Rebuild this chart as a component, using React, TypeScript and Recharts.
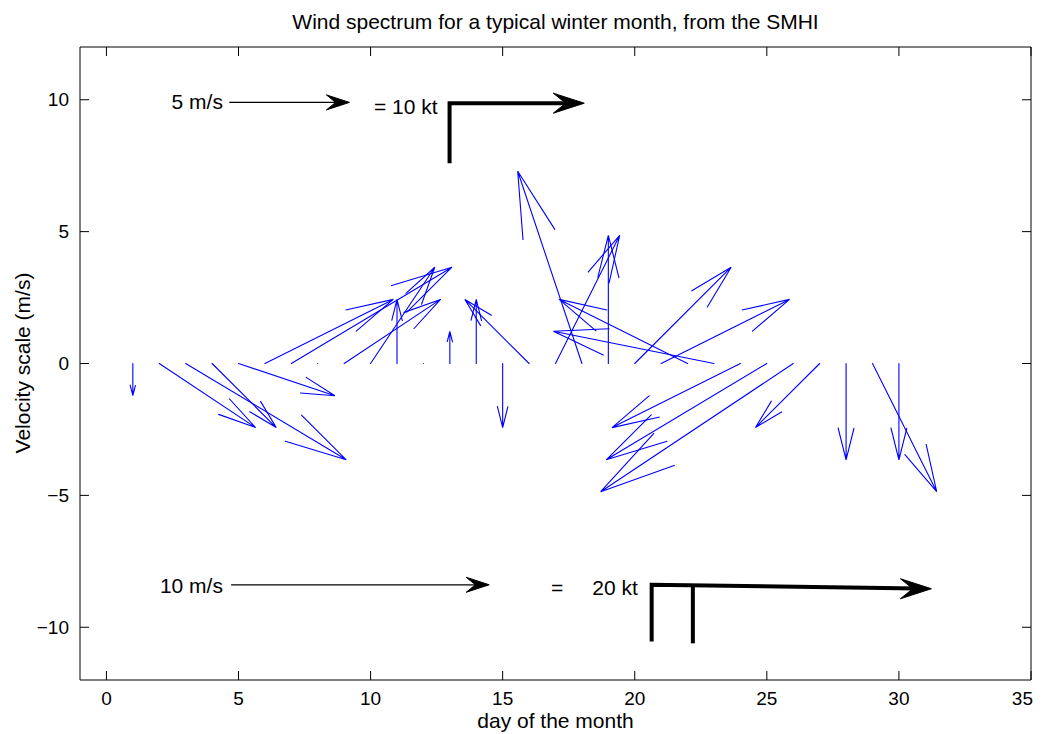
import React from 'react'
import { ScatterChart, Scatter, XAxis, YAxis } from 'recharts'

// one arrow per day, drawn from (day, 0). u/v (already in m/s-scale units)
const days = [1, 2, 3, 4, 5, 6, 7, 8, 9, 10, 11, 12, 13, 14, 15, 16, 17, 18, 19, 20, 21, 22, 23, 24, 25, 26, 27, 28, 29, 30]
const uWind = [0, 3.65, 6.08, 2.43, 3.65, 4.86, 6.08, 0, 3.65, 2.43, 0, 0, 0, 0, 0, -2.43, 2.43, -2.43, 0, 3.65, 4.86, -4.86, -6.08, -4.86, -6.08, -7.29, -2.43, 0, 2.43, 0]
const vWind = [-1.22, -2.43, -3.65, -2.43, -1.22, 2.43, 3.65, 0, 2.43, 3.65, 2.43, 0, 1.22, 2.43, -2.43, 2.43, 4.86, 7.29, 4.86, 3.65, 2.43, 2.43, 1.22, -2.43, -3.65, -4.86, -2.43, -3.65, -4.86, -3.65]

const xTicks = [0, 5, 10, 15, 20, 25, 30, 35]
const yTicks = [-10, -5, 0, 5, 10]

// scale key annotations (data coords)
const keyTexts = [
  { x: 4.41, y: 9.92, label: '5 m/s', anchor: 'end' },
  { x: 10.13, y: 9.76, label: '= 10 kt', anchor: 'start' },
  { x: 4.41, y: -8.42, label: '10 m/s', anchor: 'end' },
  { x: 17.06, y: -8.5, label: '=', anchor: 'middle' },
  { x: 18.39, y: -8.5, label: '20 kt', anchor: 'start' },
]
const thinShafts = [
  [{ x: 4.65, y: 9.9 }, { x: 8.9, y: 9.9 }],
  [{ x: 4.72, y: -8.39 }, { x: 14.2, y: -8.39 }],
]
const thinTips = [{ x: 9.2, y: 9.9 }, { x: 14.49, y: -8.39 }]
const barbLines = [
  [{ x: 12.99, y: 7.59 }, { x: 12.99, y: 9.87 }, { x: 17.6, y: 9.87 }],
  [{ x: 20.64, y: -10.54 }, { x: 20.64, y: -8.39 }, { x: 30.7, y: -8.53 }],
  [{ x: 22.2, y: -10.61 }, { x: 22.2, y: -8.43 }],
]
const barbTips = [{ x: 18.09, y: 9.87 }, { x: 31.23, y: -8.54 }]

const FONT = '"Liberation Sans", Arial, Helvetica, sans-serif'
const BLUE = '#0000ff'
const TICK_LEN = 9

// matlab quiver head: alpha = head length, beta = head width
const ALPHA = 0.33
const BETA = 0.25

function quiverPoints(x: number, u: number, v: number) {
  const tx = x + u
  const ty = v
  return [
    { x, y: 0 },
    { x: tx, y: ty },
    { x: tx - ALPHA * (u + BETA * v), y: ty - ALPHA * (v - BETA * u) },
    { x: tx, y: ty },
    { x: tx - ALPHA * (u - BETA * v), y: ty - ALPHA * (v + BETA * u) },
  ]
}

const Empty = () => <g />

const headShape = (len: number, half: number) => (p: any) => {
  const { cx, cy } = p
  const d = `M${cx},${cy} L${cx - len},${cy - half} L${cx - len * 0.6},${cy} L${cx - len},${cy + half} Z`
  return <path d={d} fill="#000" stroke="#000" strokeWidth={1} strokeLinejoin="miter" />
}

const TextShape = (p: any) => (
  <text x={p.cx} y={p.cy} textAnchor={p.payload.anchor} dominantBaseline="central" fontSize={21} fontFamily={FONT} fill="#000">
    {p.payload.label}
  </text>
)

const fmt = (v: number) => (v < 0 ? `\u2212${-v}` : `${v}`)

function BottomTick({ x, y, payload }: any) {
  // last label is kept inside the frame, as in the original
  const last = payload.value === xTicks[xTicks.length - 1]
  return (
    <g>
      <line x1={x} x2={x} y1={y} y2={y - TICK_LEN} stroke="#000" />
      <text x={last ? x + 2 : x} y={y + 18} textAnchor={last ? 'end' : 'middle'} dominantBaseline="central" fontSize={19} fontFamily={FONT} fill="#000">{fmt(payload.value)}</text>
    </g>
  )
}
function TopTick({ x, y }: any) {
  return <line x1={x} x2={x} y1={y} y2={y + TICK_LEN} stroke="#000" />
}
function LeftTick({ x, y, payload }: any) {
  return (
    <g>
      <line x1={x} x2={x + TICK_LEN} y1={y} y2={y} stroke="#000" />
      <text x={x - 11} y={y} textAnchor="end" dominantBaseline="central" fontSize={19} fontFamily={FONT} fill="#000">{fmt(payload.value)}</text>
    </g>
  )
}
function RightTick({ x, y }: any) {
  return <line x1={x} x2={x - TICK_LEN} y1={y} y2={y} stroke="#000" />
}

export default function App() {
  return (
    <div style={{ position: 'relative', width: 1036, height: 726, fontFamily: FONT, color: '#000' }}>
      <div style={{ position: 'absolute', left: 72, width: 951, top: 2, height: 24, lineHeight: '24px', textAlign: 'center', fontSize: 21 }}>
        Wind spectrum for a typical winter month, from the SMHI
      </div>
      <div style={{ position: 'absolute', left: 72, width: 951, top: 701, height: 24, lineHeight: '24px', textAlign: 'center', fontSize: 21 }}>
        day of the month
      </div>
      <div style={{ position: 'absolute', left: 15 - 150, top: 355 - 12, width: 300, height: 24, lineHeight: '24px', textAlign: 'center', fontSize: 21, transform: 'rotate(-90deg)' }}>
        Velocity scale (m/s)
      </div>
      <ScatterChart width={1036} height={726} margin={{ top: 38, right: 12, bottom: 0, left: 0 }}>
        <XAxis xAxisId="b" type="number" dataKey="x" domain={[-1, 35]} ticks={xTicks} interval={0} allowDataOverflow orientation="bottom" height={54} tickSize={0} tickMargin={0} tickLine={false} axisLine={{ stroke: '#000' }} tick={<BottomTick />} />
        <XAxis xAxisId="t" type="number" dataKey="x" domain={[-1, 35]} ticks={xTicks} interval={0} allowDataOverflow orientation="top" height={1} tickSize={0} tickMargin={0} tickLine={false} axisLine={{ stroke: '#000' }} tick={<TopTick />} />
        <YAxis yAxisId="l" type="number" dataKey="y" domain={[-12, 12]} ticks={yTicks} interval={0} allowDataOverflow orientation="left" width={72} tickSize={0} tickMargin={0} tickLine={false} axisLine={{ stroke: '#000' }} tick={<LeftTick />} />
        <YAxis yAxisId="r" type="number" dataKey="y" domain={[-12, 12]} ticks={yTicks} interval={0} allowDataOverflow orientation="right" width={1} tickSize={0} tickMargin={0} tickLine={false} axisLine={{ stroke: '#000' }} tick={<RightTick />} />

        {days.map((d, i) => (
          <Scatter
            key={`q${d}`}
            xAxisId="b"
            yAxisId="l"
            data={quiverPoints(d, uWind[i], vWind[i])}
            line={{ stroke: BLUE, strokeWidth: 1.1, strokeLinecap: 'round' }}
            lineType="joint"
            shape={Empty}
            isAnimationActive={false}
          />
        ))}

        {thinShafts.map((s, i) => (
          <Scatter key={`ts${i}`} xAxisId="b" yAxisId="l" data={s} line={{ stroke: '#000', strokeWidth: 1.2 }} lineType="joint" shape={Empty} isAnimationActive={false} />
        ))}
        <Scatter xAxisId="b" yAxisId="l" data={thinTips} shape={headShape(23, 7.5)} isAnimationActive={false} />

        {barbLines.map((s, i) => (
          <Scatter key={`bl${i}`} xAxisId="b" yAxisId="l" data={s} line={{ stroke: '#000', strokeWidth: 4, strokeLinejoin: 'miter', strokeLinecap: 'butt' }} lineType="joint" shape={Empty} isAnimationActive={false} />
        ))}
        <Scatter xAxisId="b" yAxisId="l" data={barbTips} shape={headShape(31, 10)} isAnimationActive={false} />

        <Scatter xAxisId="b" yAxisId="l" data={keyTexts} shape={TextShape} isAnimationActive={false} />
      </ScatterChart>
    </div>
  )
}
